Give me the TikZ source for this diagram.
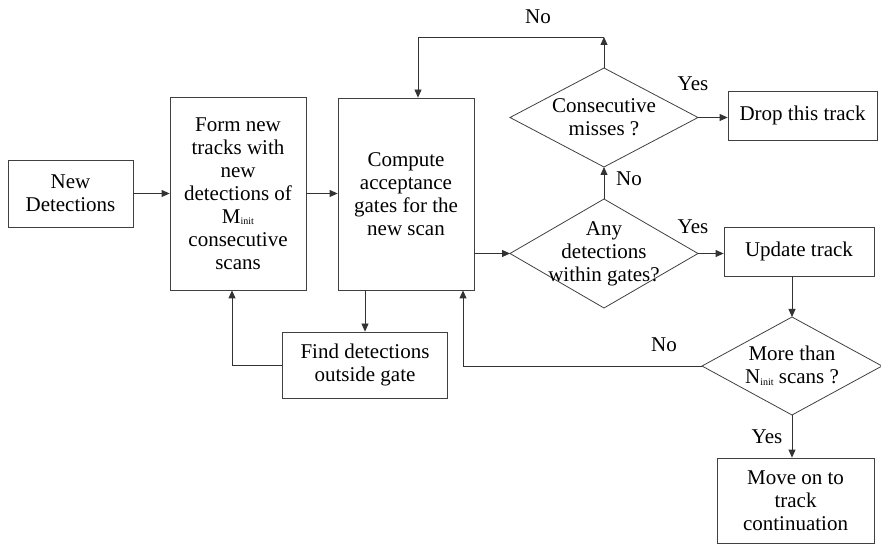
\documentclass[tikz,border=0pt]{standalone}
\usepackage{fontspec}
\setmainfont{Liberation Serif}
\newfontfamily\tnr{Liberation Serif}
\usetikzlibrary{arrows.meta}
\newcommand{\subinit}{\raisebox{-1.5pt}{\fontsize{10}{10}\selectfont init}}
% diamond: name, cx, cy, half width, half height
\newcommand{\mydia}[5]{%
  \coordinate (#1-n) at (#2,#3-#5);
  \coordinate (#1-s) at (#2,#3+#5);
  \coordinate (#1-w) at (#2-#4,#3);
  \coordinate (#1-e) at (#2+#4,#3);
  \draw[dline] (#1-n) -- (#1-e) -- (#1-s) -- (#1-w) -- cycle;}
\begin{document}
\begin{tikzpicture}[x=1pt,y=-1pt,
  every node/.style={font=\tnr\fontsize{21}{23}\selectfont},
  box/.style={draw=black!75,line width=0.8pt,align=center,inner sep=0pt},
  dline/.style={draw=black!75,line width=0.8pt,line join=miter},
  txt/.style={align=center,inner sep=0pt},
  arr/.style={draw=black!80,line width=0.8pt,-{Triangle[length=8pt,width=7pt]}},
  lbl/.style={inner sep=0pt}]
\useasboundingbox (0,0) rectangle (881,545);

\node[box,minimum width=125pt,minimum height=67pt] (newdet) at (70.5,193.5) {New\\Detections};
\node[box,minimum width=136pt,minimum height=193pt] (form) at (238,193.5) {Form new\\tracks with\\new\\detections of\\M\subinit\\consecutive\\scans};
\node[box,minimum width=136pt,minimum height=192pt] (comp) at (406,194) {Compute\\acceptance\\gates for the\\new scan};
\mydia{cm}{604}{117.5}{94}{49.5}
\node[txt] (cmt) at (604,117.5) {Consecutive\\misses ?};
\mydia{any}{604}{253.5}{94}{54.5}
\node[txt] (anyt) at (604,253.5) {Any\\detections\\within gates?};
\node[box,minimum width=149pt,minimum height=49pt] (drop) at (802.5,115.5) {Drop this track};
\node[box,minimum width=150pt,minimum height=49pt] (upd) at (799,251.5) {Update track};
\mydia{more}{792}{366}{90}{49}
\node[txt] (moret) at (792,366) {More than\\N\subinit{} scans ?};
\node[box,minimum width=165pt,minimum height=66pt] (find) at (365,365) {Find detections\\outside gate};
\node[box,minimum width=157pt,minimum height=85pt] (move) at (795.5,500.5) {Move on to\\track\\continuation};

\coordinate (tr) at (604,37);

\draw[arr] (newdet.east) -- (newdet.east -| form.west);
\draw[arr] (form.east) -- (form.east -| comp.west);
\draw[arr] (any-w -| comp.east) -- (any-w);
\draw[arr] (any-n) -- (cm-s);
\draw[arr] (cm-n) -- (tr);
\draw[arr] (tr) -| ([xshift=12pt]comp.north);
\draw[arr] (cm-e) -- (cm-e -| drop.west);
\draw[arr] (any-e) -- (any-e -| upd.west);
\draw[arr] (more-n |- upd.south) -- (more-n);
\draw[arr] (more-w) -| ([xshift=57pt]comp.south);
\draw[arr] (find.north |- comp.south) -- (find.north);
\draw[arr] (find.west) -| ([xshift=-6pt]form.south);
\draw[arr] (more-s) -- (more-s |- move.north);

\node[lbl] (l1) at (538,17) {No};
\node[lbl] (l2) at (693,84) {Yes};
\node[lbl] (l3) at (629,179) {No};
\node[lbl] (l4) at (693,227) {Yes};
\node[lbl] (l5) at (664,345) {No};
\node[lbl] (l6) at (767,437) {Yes};
\end{tikzpicture}
\end{document}
